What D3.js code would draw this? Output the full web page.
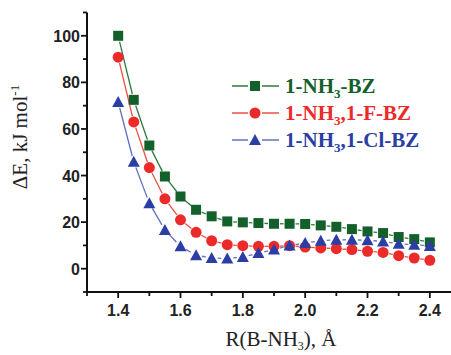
<!DOCTYPE html>
<html>
<head>
<meta charset="utf-8">
<script src="https://cdn.jsdelivr.net/npm/d3@7"></script>
<style>
  html, body { margin: 0; padding: 0; background: #fff; }
  svg { display: block; }
</style>
</head>
<body>
<svg id="chart" width="451" height="355"></svg>
<script>
// ΔE vs R(B-NH3) for three benzene-like complexes

const R = [1.40, 1.45, 1.50, 1.55, 1.60, 1.65, 1.70, 1.75, 1.80, 1.85, 1.90,
           1.95, 2.00, 2.05, 2.10, 2.15, 2.20, 2.25, 2.30, 2.35, 2.40];
const nh3 = [100, 72.5, 52.9, 39.6, 31.0, 25.3, 22.5, 20.3, 19.9, 19.6, 19.3,
             19.3, 19.2, 18.6, 18.0, 17.0, 16.0, 15.3, 13.6, 12.7, 11.3];
const nh3F = [90.8, 63.0, 43.4, 30.0, 21.0, 15.6, 12.0, 10.3, 9.9, 9.6, 9.6,
              9.9, 9.3, 8.9, 8.6, 8.2, 7.5, 7.0, 5.6, 4.6, 3.6];
const nh3Cl = [71.6, 45.9, 28.1, 16.6, 9.6, 5.8, 4.6, 4.4, 5.0, 6.7, 8.2,
               10.0, 11.0, 12.0, 12.4, 12.4, 12.2, 11.7, 10.7, 10.3, 9.8];

const seriesNames = ["1-NH3-BZ", "1-NH3,1-F-BZ", "1-NH3,1-Cl-BZ"];
const xTicks = [1.4, 1.6, 1.8, 2.0, 2.2, 2.4];
const yTicks = [0, 20, 40, 60, 80, 100];

const series = [
  { values: nh3,   shape: "square",   fill: "#14602a", line: "#2d7a3e", name: seriesNames[0] },
  { values: nh3F,  shape: "circle",   fill: "#ec2a2a", line: "#e8503f", name: seriesNames[1] },
  { values: nh3Cl, shape: "triangle", fill: "#2b3ea3", line: "#6270c0", name: seriesNames[2] },
];

const svg = d3.select("#chart");
const x = d3.scaleLinear().domain([1.3, 2.5]).range([87, 461]);
const y = d3.scaleLinear().domain([-10, 110]).range([292, 12.5]);

const SANS = "'Liberation Sans', Arial, sans-serif";
const SERIF = "'Liberation Serif', 'Times New Roman', serif";

// axes
const axes = svg.append("g");
axes.append("line").attr("x1", x(1.3)).attr("x2", x(2.5))
  .attr("y1", y(-10)).attr("y2", y(-10)).attr("stroke", "#111").attr("stroke-width", 2);
axes.append("line").attr("x1", x(1.3)).attr("x2", x(1.3))
  .attr("y1", y(-10) + 1).attr("y2", y(110)).attr("stroke", "#111").attr("stroke-width", 2);

// y ticks: majors + minors
d3.range(-10, 111, 10).forEach((v) => {
  const major = v % 20 === 0;
  axes.append("line").attr("x1", x(1.3)).attr("x2", x(1.3) - (major ? 6 : 4))
    .attr("y1", y(v)).attr("y2", y(v)).attr("stroke", "#111").attr("stroke-width", 1.8);
});
axes.selectAll("text.yt").data(yTicks).enter().append("text")
  .attr("x", x(1.3) - 7).attr("y", (d) => y(d) + 6)
  .attr("text-anchor", "end")
  .style("font", `bold 16px ${SANS}`).style("fill", "#222")
  .text((d) => d);

// x ticks
d3.range(13, 25).map((v) => v / 10).forEach((v) => {
  const major = Math.round(v * 10) % 2 === 0;
  axes.append("line").attr("x1", x(v)).attr("x2", x(v))
    .attr("y1", y(-10)).attr("y2", y(-10) + (major ? 6 : 4))
    .attr("stroke", "#111").attr("stroke-width", 1.8);
});
axes.selectAll("text.xt").data(xTicks).enter().append("text")
  .attr("x", (d) => x(d)).attr("y", 316)
  .attr("text-anchor", "middle")
  .style("font", `bold 16px ${SANS}`).style("fill", "#222")
  .text((d) => d.toFixed(1));

// axis titles
const xl = svg.append("text").attr("x", 281).attr("y", 346).attr("text-anchor", "middle")
  .style("font", `21px ${SERIF}`).style("fill", "#222");
xl.append("tspan").text("R(B-NH");
xl.append("tspan").attr("dy", 4).style("font-size", "12px").text("3");
xl.append("tspan").attr("dy", -4).text("), Å");

const yl = svg.append("text").attr("transform", "translate(27,137) rotate(-90)")
  .attr("text-anchor", "middle").style("font", `21px ${SERIF}`).style("fill", "#222");
yl.append("tspan").text("ΔE, kJ mol");
yl.append("tspan").attr("dy", -8).style("font-size", "13px").text("-1");

// symbol drawing
function symbol(g, shape, cx, cy, fill) {
  if (shape === "square") {
    g.append("rect").attr("x", cx - 5).attr("y", cy - 5).attr("width", 10).attr("height", 10)
      .attr("fill", fill);
  } else if (shape === "circle") {
    g.append("circle").attr("cx", cx).attr("cy", cy).attr("r", 5.5).attr("fill", fill);
  } else {
    g.append("path").attr("d", `M${cx},${cy - 6}L${cx + 6},${cy + 5}L${cx - 6},${cy + 5}Z`)
      .attr("fill", fill);
  }
}

// series: line segments with gaps round the symbols
const GAP = 6;
const plot = svg.append("g");
series.forEach((s) => {
  const pts = s.values.map((v, i) => [x(R[i]), y(v)]);
  const lg = plot.append("g");
  for (let i = 0; i < pts.length - 1; i++) {
    const [x0, y0] = pts[i], [x1, y1] = pts[i + 1];
    const len = Math.hypot(x1 - x0, y1 - y0);
    if (len <= 2 * GAP) continue;
    const ux = (x1 - x0) / len, uy = (y1 - y0) / len;
    lg.append("line")
      .attr("x1", x0 + ux * GAP).attr("y1", y0 + uy * GAP)
      .attr("x2", x1 - ux * GAP).attr("y2", y1 - uy * GAP)
      .attr("stroke", s.line).attr("stroke-width", 1.3);
  }
});
series.forEach((s) => {
  const sg = plot.append("g");
  s.values.forEach((v, i) => symbol(sg, s.shape, x(R[i]), y(v), s.fill));
});

// legend
const legend = svg.append("g");
const rows = [86, 113, 140];
series.forEach((s, i) => {
  const ly = rows[i];
  legend.append("line").attr("x1", 232).attr("x2", 279).attr("y1", ly).attr("y2", ly)
    .attr("stroke", s.line).attr("stroke-width", 1.3);
  legend.append("rect").attr("x", 248).attr("y", ly - 5).attr("width", 14).attr("height", 10)
    .attr("fill", "#fff");
  symbol(legend, s.shape, 255, ly, s.fill);
  const t = legend.append("text").attr("x", 285).attr("y", ly + 7)
    .style("font", `bold 21px ${SERIF}`).style("fill", s.fill);
  const [pre, post] = s.name.split("NH3");
  t.append("tspan").text(pre + "NH");
  t.append("tspan").attr("dy", 5).style("font-size", "13px").text("3");
  t.append("tspan").attr("dy", -5).text(post);
});
</script>
</body>
</html>
